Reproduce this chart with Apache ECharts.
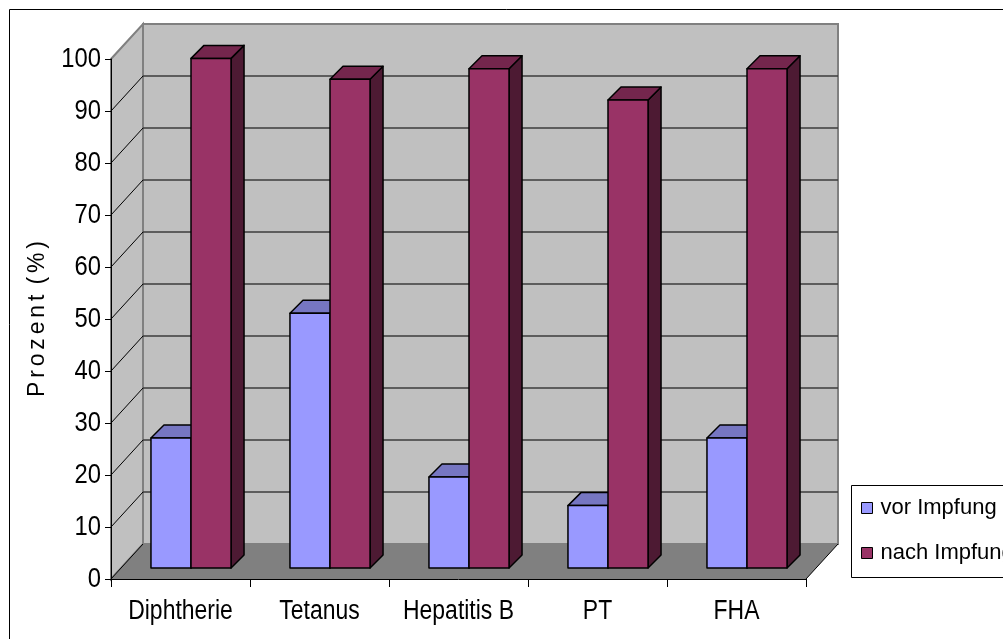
<!DOCTYPE html>
<html>
<head>
<meta charset="utf-8">
<script src="https://cdn.jsdelivr.net/npm/echarts@6/dist/echarts.min.js"></script>
<style>
  html, body { margin: 0; padding: 0; background: #fff; }
  #chart { width: 1003px; height: 639px; }
</style>
</head>
<body>
<div id="chart"></div>
<script>
// Antikörper-Titer: Anteil (%) vor und nach der Impfung
const categories = ['Diphtherie', 'Tetanus', 'Hepatitis B', 'PT', 'FHA'];
const seriesNames = ['vor Impfung', 'nach Impfung'];
const vorImpfung = [25, 49, 17.5, 12, 25];
const nachImpfung = [98, 94, 96, 90, 96];
const yTicks = [0, 10, 20, 30, 40, 50, 60, 70, 80, 90, 100];

// pseudo-3D geometry (pixels)
const WALL_DX = 32, WALL_DY = -35;   // depth of the floor / side wall
const BAR_OX = 10.5, BAR_OY = -11;   // bar front face offset behind front plane
const BAR_DX = 13, BAR_DY = -13;     // bar depth
const BAR_FRAC = 0.288;              // bar width as part of category width

const SANS = "'Liberation Sans', Arial, sans-serif";
const CONDENSE = 0.85;               // horizontal squeeze for the narrow label face

const faceColors = [
  { front: '#9999FF', top: '#7676C2', side: '#5C5CA0' },
  { front: '#993366', top: '#74264D', side: '#4D1A33' }
];

function narrowText(x, y, text, size, align, vAlign) {
  return { type: 'text', x: x, y: y, scaleX: CONDENSE,
    style: { text: text, fill: '#000', fontFamily: SANS, fontSize: size, align: align, verticalAlign: vAlign } };
}

function wallsItem(params, api) {
  const cs = params.coordSys;
  const x0 = cs.x, x1 = cs.x + cs.width;
  const yb = cs.y + cs.height, yt = cs.y;
  const children = [];
  // back wall
  children.push({ type: 'polygon', shape: { points: [
      [x0 + WALL_DX, yt + WALL_DY], [x1 + WALL_DX, yt + WALL_DY],
      [x1 + WALL_DX, yb + WALL_DY], [x0 + WALL_DX, yb + WALL_DY]] },
    style: { fill: '#C0C0C0', stroke: '#808080', lineWidth: 2 } });
  // side wall
  children.push({ type: 'polygon', shape: { points: [
      [x0, yb], [x0 + WALL_DX, yb + WALL_DY], [x0 + WALL_DX, yt + WALL_DY], [x0, yt]] },
    style: { fill: '#C0C0C0', stroke: '#808080', lineWidth: 2 } });
  // gridlines on back wall and side wall
  yTicks.forEach(function (t) {
    if (t === 0 || t === 100) return;
    const y = api.coord([0, t])[1];
    children.push({ type: 'line', shape: { x1: x0 + WALL_DX, y1: y + WALL_DY, x2: x1 + WALL_DX, y2: y + WALL_DY },
      style: { stroke: '#3C3C3C', lineWidth: 1.3 } });
    children.push({ type: 'line', shape: { x1: x0, y1: y, x2: x0 + WALL_DX, y2: y + WALL_DY },
      style: { stroke: '#000', lineWidth: 1 } });
  });
  // floor
  children.push({ type: 'polygon', shape: { points: [
      [x0, yb], [x1, yb], [x1 + WALL_DX, yb + WALL_DY], [x0 + WALL_DX, yb + WALL_DY]] },
    style: { fill: '#808080', stroke: null } });
  children.push({ type: 'line', shape: { x1: x1, y1: yb, x2: x1 + WALL_DX, y2: yb + WALL_DY },
    style: { stroke: '#000', lineWidth: 1 } });
  children.push({ type: 'line', shape: { x1: x0, y1: yb, x2: x0 + WALL_DX, y2: yb + WALL_DY },
    style: { stroke: '#000', lineWidth: 1 } });
  return { type: 'group', children: children };
}

function barRenderer(idx) {
  const c = faceColors[idx];
  return function (params, api) {
    const cat = api.value(0), v = api.value(1);
    const base = api.coord([cat, 0]);
    const top = api.coord([cat, v]);
    const bw = api.size([1, 0])[0] * BAR_FRAC;
    const xl = base[0] + BAR_OX + (idx === 0 ? -bw : 0);
    const xr = xl + bw;
    const yt = top[1] + BAR_OY, yb = base[1] + BAR_OY;
    const edge = { stroke: '#000', lineWidth: 1.5, lineJoin: 'round' };
    return { type: 'group', children: [
      { type: 'polygon', shape: { points: [[xr, yt], [xr + BAR_DX, yt + BAR_DY], [xr + BAR_DX, yb + BAR_DY], [xr, yb]] },
        style: Object.assign({ fill: c.side }, edge) },
      { type: 'polygon', shape: { points: [[xl, yt], [xr, yt], [xr + BAR_DX, yt + BAR_DY], [xl + BAR_DX, yt + BAR_DY]] },
        style: Object.assign({ fill: c.top }, edge) },
      { type: 'rect', shape: { x: xl, y: yt, width: bw, height: yb - yt },
        style: Object.assign({ fill: c.front }, edge) }
    ] };
  };
}

// category labels under the x axis
function categoryLabel(params, api) {
  const p = api.coord([api.value(0), 0]);
  return narrowText(p[0], p[1] + 33, categories[api.value(0)], 27, 'center', 'middle');
}

// tick labels left of the y axis
function valueLabel(params, api) {
  const v = api.value(1);
  const p = api.coord([0, v]);
  return narrowText(params.coordSys.x - 10, p[1], String(v), 28, 'right', 'middle');
}

const chart = echarts.init(document.getElementById('chart'), null, { renderer: 'canvas' });
chart.setOption({
  animation: false,
  backgroundColor: '#fff',
  grid: { left: 111, right: 197, top: 59, bottom: 60, containLabel: false },
  xAxis: {
    type: 'category', data: categories, boundaryGap: true,
    axisLine: { show: true, lineStyle: { color: '#000', width: 1 } },
    axisTick: { show: true, length: 8, lineStyle: { color: '#000' } },
    axisLabel: { show: false },
    splitLine: { show: false }, z: 3
  },
  yAxis: {
    type: 'value', min: 0, max: 100, interval: 10,
    name: 'P\u2006r\u2006o\u2006z\u2006e\u2006n\u2006t\u2006 (\u2006%\u2006)',
    nameLocation: 'middle', nameRotate: 90, nameGap: 62,
    nameTextStyle: { color: '#000', fontFamily: SANS, fontSize: 23 },
    axisLine: { show: true, lineStyle: { color: '#000', width: 1 } },
    axisTick: { show: true, length: 6, lineStyle: { color: '#000' } },
    axisLabel: { show: false },
    splitLine: { show: false }, z: 3
  },
  legend: {
    orient: 'vertical', left: 861, top: 496, padding: 0, itemGap: 21,
    itemWidth: 11, itemHeight: 11, icon: 'rect', z: 10,
    itemStyle: { borderColor: '#000', borderWidth: 1 },
    textStyle: { color: '#000', fontFamily: SANS, fontSize: 22, lineHeight: 24, padding: [0, 0, 0, 3] },
    data: seriesNames
  },
  graphic: [
    { type: 'rect', z: -10, shape: { x: 9.5, y: 9.5, width: 1100, height: 700 },
      style: { fill: 'none', stroke: '#000', lineWidth: 1 } },
    { type: 'rect', z: 5, shape: { x: 851.5, y: 485.5, width: 300, height: 92 },
      style: { fill: '#fff', stroke: '#000', lineWidth: 1 } }
  ],
  series: [
    { type: 'custom', name: 'walls', renderItem: wallsItem, data: [[0, 0]], clip: false, silent: true, z: 1 },
    { type: 'custom', name: seriesNames[0], renderItem: barRenderer(0), clip: false, z: 2,
      itemStyle: { color: faceColors[0].front },
      data: vorImpfung.map(function (v, i) { return [i, v]; }) },
    { type: 'custom', name: seriesNames[1], renderItem: barRenderer(1), clip: false, z: 2,
      itemStyle: { color: faceColors[1].front },
      data: nachImpfung.map(function (v, i) { return [i, v]; }) },
    { type: 'custom', name: 'categoryLabels', renderItem: categoryLabel, clip: false, silent: true, z: 3,
      data: categories.map(function (c, i) { return [i, 0]; }) },
    { type: 'custom', name: 'valueLabels', renderItem: valueLabel, clip: false, silent: true, z: 3,
      data: yTicks.map(function (t) { return [0, t]; }) }
  ]
});
</script>
</body>
</html>
